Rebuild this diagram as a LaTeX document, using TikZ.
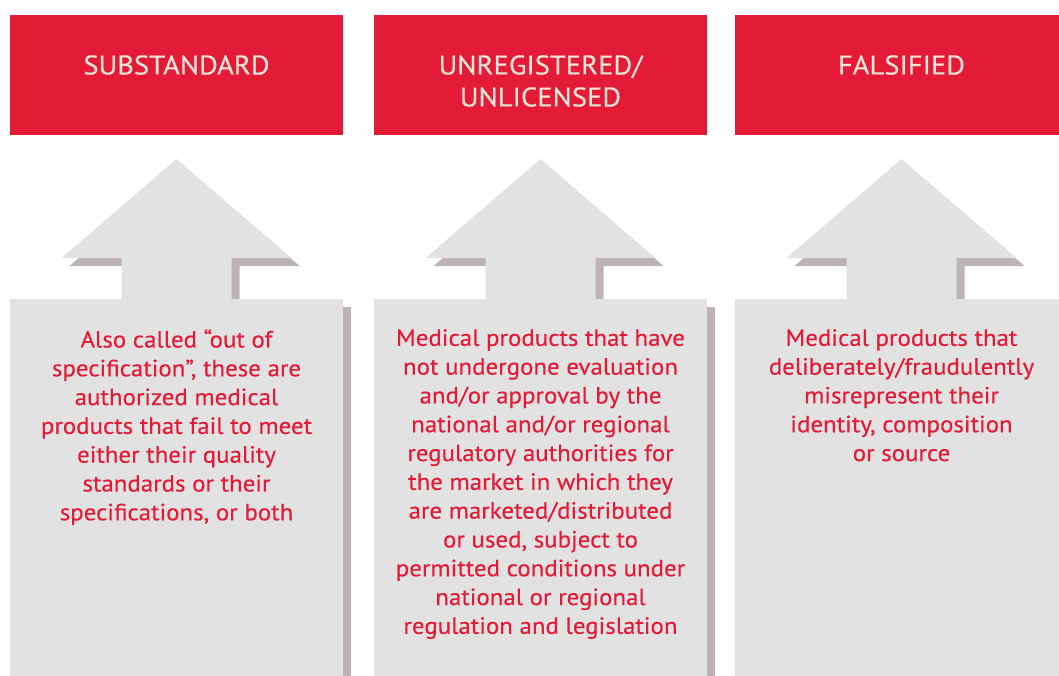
\documentclass[tikz,border=0pt]{standalone}
\usepackage{fontspec}
\setmainfont{PT Sans}[FakeStretch=1.06,FakeBold=0.25]
\definecolor{whored}{HTML}{E41B36}
\definecolor{whogrey}{HTML}{E2E2E2}
\definecolor{whoshade}{HTML}{BDB3B6}
\definecolor{whocream}{HTML}{F4E4DA}
\begin{document}
\begin{tikzpicture}[
x=1pt,
y=-1pt,
redbox/.style={
fill=whored,
minimum width=333pt,
minimum height=120pt,
inner sep=0pt,
},
title/.style={
text=whocream,
align=center,
font=\fontsize{27}{32}\selectfont,
},
body/.style={
text=whored,
align=center,
anchor=north,
inner sep=0pt,
font=\fontsize{23.5}{28.8}\selectfont,
},
uparrow/.pic={
\fill[whoshade] (8,167) -- (123,266) -- (63,266) -- (63,307) -- (-47,307) -- (-47,266) -- (-107,266) -- cycle;
\fill[whogrey] (0,159) -- (115,258) -- (55,258) -- (55,299) -- (-55,299) -- (-55,258) -- (-115,258) -- cycle;
},
]
\useasboundingbox (0,0) rectangle (1059,675);

\node[redbox] (r1) at (176.5,75) {};
\node[redbox] (r2) at (540.5,75) {};
\node[redbox] (r3) at (901.5,75) {};

\node[title] (t1) at (176.5,65) {SUBSTANDARD};
\node[title] (t2) at (540.5,81) {UNREGISTERED/\\UNLICENSED};
\node[title] (t3) at (901.5,65) {FALSIFIED};

\pic at (176.5,0) {uparrow};
\pic at (540.5,0) {uparrow};
\pic at (901.5,0) {uparrow};

\fill[whoshade] (18,307) rectangle (351,690);
\fill[whogrey] (10,299) rectangle (343,690);
\fill[whoshade] (382,307) rectangle (715,690);
\fill[whogrey] (374,299) rectangle (707,690);
\fill[whogrey] (735,299) rectangle (1068,690);

\node[body] (d1) at (176.5,329) {Also called “out of\\specification”, these are\\authorized medical\\products that fail to meet\\either their quality\\standards or their\\specifications, or both};
\node[body] (d2) at (540.5,329) {Medical products that have\\not undergone evaluation\\and/or approval by the\\national and/or regional\\regulatory authorities for\\the market in which they\\are marketed/distributed\\or used, subject to\\permitted conditions under\\national or regional\\regulation and legislation};
\node[body] (d3) at (901.5,329) {Medical products that\\deliberately/fraudulently\\misrepresent their\\identity, composition\\or source};

\end{tikzpicture}
\end{document}
